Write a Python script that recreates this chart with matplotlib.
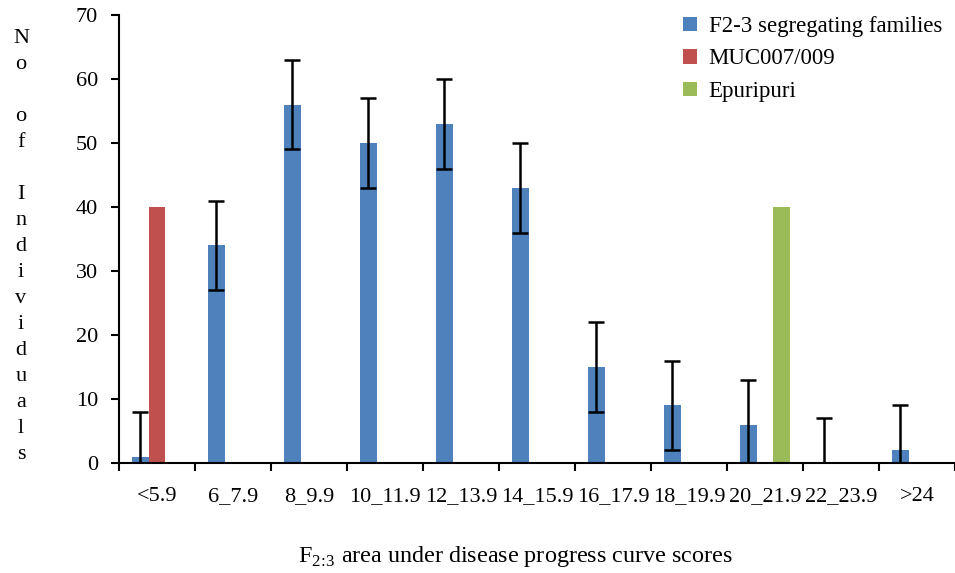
import numpy as np
import matplotlib.pyplot as plt

plt.rcParams['font.family'] = 'Liberation Serif'
plt.rcParams['mathtext.fontset'] = 'custom'
plt.rcParams['mathtext.rm'] = 'Liberation Serif'

# data
categories = ['<5.9', '6_7.9', '8_9.9', '10_11.9', '12_13.9', '14_15.9',
              '16_17.9', '18_19.9', '20_21.9', '22_23.9', '>24']
f23 = [1, 34, 56, 50, 53, 43, 15, 9, 6, 0, 2]
f23_err = [7, 7, 7, 7, 7, 7, 7, 7, 7, 7, 7]
muc = [40, 0, 0, 0, 0, 0, 0, 0, 0, 0, 0]
epuripuri = [0, 0, 0, 0, 0, 0, 0, 0, 40, 0, 0]

x = np.arange(len(categories))
w = 1 / 4.5

fig = plt.figure(figsize=(9.55, 5.73), dpi=100)
ax = fig.add_axes([0.1246, 0.192, 0.8754, 0.782])

ax.bar(x - w, f23, w, color='#4F81BD', label='F2-3 segregating families')
ax.bar(x, muc, w, color='#C0504D', label='MUC007/009')
ax.bar(x + w, epuripuri, w, color='#9BBB59', label='Epuripuri')
ax.errorbar(x - w, f23, yerr=f23_err, fmt='none', ecolor='black',
            elinewidth=1.8, capsize=6, capthick=1.8)

ax.set_xlim(-0.5, len(categories) - 0.5)
ax.set_ylim(0, 70)
ax.set_yticks(range(0, 71, 10))
ax.set_xticks(np.arange(-0.5, len(categories), 1))
ax.set_xticklabels([])
ax.set_xticks(x, minor=True)
ax.set_xticklabels(categories, minor=True)
ax.tick_params(axis='x', which='minor', length=0, pad=17, labelsize=16)
ax.tick_params(axis='x', which='major', length=6, width=1.5, direction='out')
ax.tick_params(axis='y', length=6, width=1.5, direction='out', labelsize=16, pad=9)

for s in ['top', 'right']:
    ax.spines[s].set_visible(False)
for s in ['left', 'bottom']:
    ax.spines[s].set_linewidth(1.5)

fig.text(0.54, 0.028, r'F$_{2\!:\!3}$ area under disease progress curve scores',
         ha='center', va='center', fontsize=17.4)

ylab = '\n'.join(list('No of Individuals'))
fig.text(0.022, 0.57, ylab, ha='center', va='center', fontsize=16,
         linespacing=1.5)

ax.legend(loc='upper left', bbox_to_anchor=(0.694, 1.008),
          bbox_transform=fig.transFigure, frameon=False, fontsize=16.5,
          handlelength=0.6, handleheight=0.6, handletextpad=0.5,
          labelspacing=0.5)

fig.savefig('out.png', dpi=100)
